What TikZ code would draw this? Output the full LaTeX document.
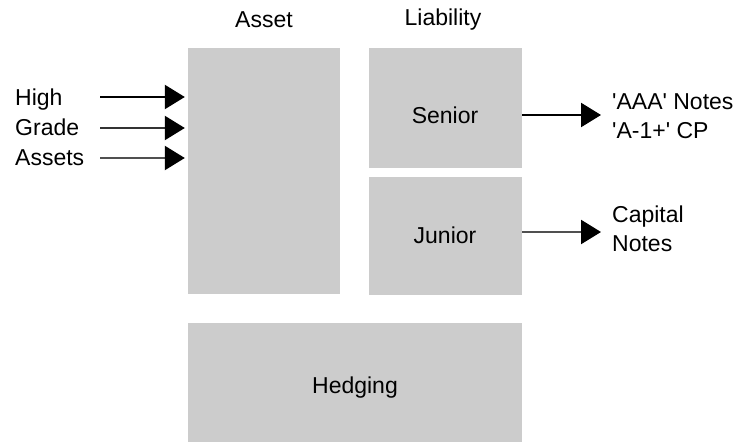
\documentclass[tikz,border=0pt]{standalone}
\usepackage{fontspec}
\setmainfont{Liberation Sans}
\usetikzlibrary{arrows.meta}
\definecolor{boxgray}{HTML}{CCCCCC}
\definecolor{linegray}{HTML}{505050}
\begin{document}
\begin{tikzpicture}[x=1pt,y=-1pt,
  block/.style={fill=boxgray,draw=none,inner sep=0pt,font=\fontsize{23}{30}\selectfont},
  lbl/.style={inner sep=0pt,font=\fontsize{23}{29}\selectfont,align=left},
  arr/.style={line width=2.3pt,-{Triangle[length=20pt,width=24pt,color=black,fill=black]}},
]
\useasboundingbox (0,0) rectangle (743,441);
\node[block,minimum width=152pt,minimum height=246pt] (asset) at (264,171) {};
\node[block,minimum width=153pt,minimum height=120pt] (senior) at (445.5,108) {};
\node[block,minimum width=153pt,minimum height=118pt] (junior) at (445.5,236) {};
\node[block,minimum width=334pt,minimum height=130pt] (hedging) at (355,388) {};
\node[lbl] (sentxt) at (445,115) {Senior};
\node[lbl] (juntxt) at (445,235) {Junior};
\node[lbl] (hedtxt) at (355,388) {Hedging};
\node[lbl] (assetlbl) at (264,20) {Asset};
\node[lbl] (liablbl) at (443,20) {Liability};
\node[lbl,anchor=west] (inlbl) at (15,127) {High\\[1pt]Grade\\[1pt]Assets};
\node[lbl,anchor=west] (outsen) at (612,116) {\textquotesingle AAA\textquotesingle{} Notes\\\textquotesingle A-1+\textquotesingle{} CP};
\node[lbl,anchor=west] (outjun) at (612,229) {Capital\\Notes};
\coordinate (a1) at (100,97);
\coordinate (a2) at (100,128);
\coordinate (a3) at (100,158);
\coordinate (s1) at (522,115);
\coordinate (s2) at (601,115);
\coordinate (j1) at (522,232);
\coordinate (j2) at (601,232);
\draw[arr,shorten >=3pt] (a1) -- (a1 -| asset.west);
\draw[arr,shorten >=3pt,draw=black!80] (a2) -- (a2 -| asset.west);
\draw[arr,shorten >=3pt,draw=linegray] (a3) -- (a3 -| asset.west);
\draw[arr] (s1) -- (s2);
\draw[arr,draw=linegray] (j1) -- (j2);
\end{tikzpicture}
\end{document}
